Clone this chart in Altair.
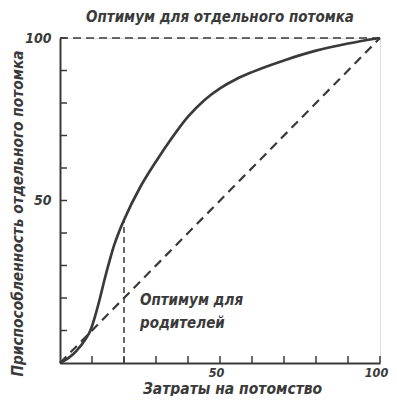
import altair as alt
import pandas as pd

# Curve: fitness of individual offspring vs parental investment
curve_x = [0, 3, 5, 8, 9.5, 11, 12.5, 14, 15.5, 17, 18.5, 20, 25, 30, 35, 40, 45, 50, 55, 60, 70, 80, 90, 100]
curve_y = [0, 1.8, 3.6, 7.4, 10, 14.5, 20, 26, 31.5, 36.5, 40.5, 44, 54, 62, 69.3, 75.8, 80.8, 84.5, 87.3, 89.5, 93.1, 96.1, 98.3, 100]

diag_x = [0, 100]
diag_y = [0, 100]
top_x = [0, 100]
top_y = [100, 100]

opt_x = [20, 20]
opt_y = [0, 44]

tick_values = [10, 20, 30, 40, 50, 60, 70, 80, 90, 100]
label_values = [50, 100]

title_text = "Оптимум для отдельного потомка"
x_title = "Затраты на потомство"
y_title = "Приспособленность отдельного потомка"
ann_lines = ["Оптимум для", "родителей"]
ann_x = [25, 25]
ann_y = [19.3, 12.4]

FONT = "Liberation Sans Narrow, DejaVu Sans Condensed, DejaVu Sans"
INK = "#3a3a3a"
W, H = 320, 325

xs = alt.Scale(domain=[0, 100], nice=False, zero=True)
ys = alt.Scale(domain=[0, 100], nice=False, zero=True)

curve_df = pd.DataFrame({"x": curve_x, "y": curve_y})
diag_df = pd.DataFrame({"x": diag_x, "y": diag_y})
top_df = pd.DataFrame({"x": top_x, "y": top_y})
opt_df = pd.DataFrame({"x": opt_x, "y": opt_y})
ticks_df = pd.DataFrame({"v": tick_values})
ann_df = pd.DataFrame({"x": ann_x, "y": ann_y, "t": ann_lines})

x_axis = alt.Axis(values=label_values, ticks=False, grid=False, domainWidth=2, domainColor=INK,
                  labelFont=FONT, labelFontStyle="italic", labelFontWeight="bold", labelFontSize=12.5,
                  labelColor=INK, labelPadding=3, labelFlush=False, labelOffset=-4,
                  title=x_title, titleFont=FONT, titleFontStyle="italic", titleFontWeight="bold",
                  titleFontSize=15.5, titleColor=INK, titleX=172, titleY=25, titleBaseline="middle")
y_axis = alt.Axis(values=label_values, ticks=False, grid=False, domainWidth=2, domainColor=INK,
                  labelFont=FONT, labelFontStyle="italic", labelFontWeight="bold", labelFontSize=14,
                  labelColor=INK, labelPadding=9, labelFlush=False,
                  title=y_title, titleFont=FONT, titleFontStyle="italic", titleFontWeight="bold",
                  titleFontSize=15.3, titleColor=INK, titleX=-43, titleY=175, titleBaseline="middle")

curve = alt.Chart(curve_df).mark_line(color=INK, strokeWidth=2.7, interpolate="monotone").encode(
    x=alt.X("x:Q", scale=xs, axis=x_axis),
    y=alt.Y("y:Q", scale=ys, axis=y_axis),
)
diag = alt.Chart(diag_df).mark_line(color=INK, strokeWidth=2.2, strokeDash=[9, 6]).encode(
    x=alt.X("x:Q", scale=xs), y=alt.Y("y:Q", scale=ys))
top = alt.Chart(top_df).mark_line(color=INK, strokeWidth=1.5, strokeDash=[8, 5]).encode(
    x=alt.X("x:Q", scale=xs), y=alt.Y("y:Q", scale=ys))
opt = alt.Chart(opt_df).mark_line(color=INK, strokeWidth=1.5, strokeDash=[6, 4]).encode(
    x=alt.X("x:Q", scale=xs), y=alt.Y("y:Q", scale=ys))

xticks = alt.Chart(ticks_df).mark_rule(color=INK, strokeWidth=1.5).encode(
    x=alt.X("v:Q", scale=xs), y=alt.value(H), y2=alt.value(H - 7))
yticks = alt.Chart(ticks_df).mark_rule(color=INK, strokeWidth=1.5).encode(
    y=alt.Y("v:Q", scale=ys), x=alt.value(0), x2=alt.value(7))

ann = alt.Chart(ann_df).mark_text(align="left", baseline="middle", font=FONT, fontStyle="italic",
                                  fontWeight="bold", fontSize=15, color=INK).encode(
    x=alt.X("x:Q", scale=xs), y=alt.Y("y:Q", scale=ys), text="t:N")

chart = alt.layer(top, diag, opt, curve, xticks, yticks, ann).properties(
    width=W, height=H,
    title=alt.Title(title_text, font=FONT, fontStyle="italic", fontWeight="bold", fontSize=15,
                    color=INK, anchor="middle", offset=6),
    padding={"left": 52, "top": 30, "right": 9, "bottom": 33},
    autosize=alt.AutoSizeParams(type="none"),
).configure_view(stroke=None).configure(background="white")

chart.save("out.html", embed_options={"renderer": "svg", "actions": False})
